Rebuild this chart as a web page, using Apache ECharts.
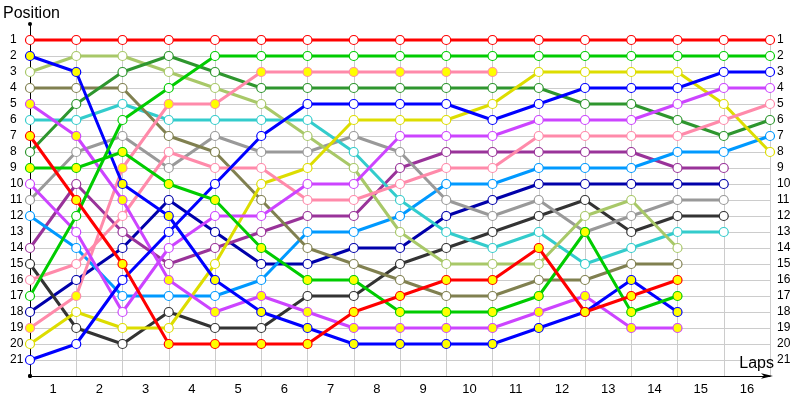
<!DOCTYPE html>
<html><head><meta charset="utf-8">
<script src="https://cdn.jsdelivr.net/npm/echarts@6/dist/echarts.min.js"></script>
<style>html,body{margin:0;padding:0;background:#fff}#c{width:800px;height:400px}</style>
</head><body><div id="c"></div>
<script>
// Lap tick labels (drawn between lap boundaries) and position labels
const lapLabels = ['1','2','3','4','5','6','7','8','9','10','11','12','13','14','15','16'];
const positionLabels = [1,2,3,4,5,6,7,8,9,10,11,12,13,14,15,16,17,18,19,20,21];

// Position of each driver at lap 0 (grid) .. lap 16
const redWhite    = [1,1,1,1,1,1,1,1,1,1,1,1,1,1,1,1,1];
const redYellow   = [7,11,15,20,20,20,20,18,17,16,16,14,18,17,16];
const greenWhite  = [17,12,6,4,2,2,2,2,2,2,2,2,2,2,2,2,2];
const greenYellow = [9,9,8,10,11,14,16,16,18,18,18,17,13,18,17];
const blueWhite   = [21,20,16,13,10,7,5,5,5,5,6,5,4,4,4,3,3];
const blueYellow  = [2,3,10,12,16,18,19,20,20,20,20,19,18,16,18];
const violetWhite = [10,13,18,14,12,12,10,10,7,7,7,6,6,6,5,4,4];
const violetYellow= [5,7,11,16,18,17,18,19,19,19,19,18,17,19,19];
const pinkWhite   = [16,15,12,8,9,9,11,11,10,9,9,7,7,7,7,6,5];
const pinkYellow  = [19,17,9,5,5,3,3,3,3,3,3];
const lightGreen  = [3,2,2,3,4,5,7,9,13,15,15,15,12,11,14];
const olive       = [4,4,4,7,8,11,14,15,16,17,17,16,16,15,15];
const cyan        = [6,6,5,6,6,6,6,8,11,13,14,13,15,14,13,13];
const gray        = [11,8,7,9,7,8,8,7,8,11,12,11,13,12,11,11];
const darkGreen   = [8,5,3,2,3,4,4,4,4,4,4,4,5,5,6,7,6];
const lightBlue   = [12,14,17,17,17,16,13,13,12,10,10,9,9,9,8,8,7];
const darkPurple  = [14,10,13,15,14,13,12,12,9,8,8,8,8,8,9,9];
const darkGray    = [15,19,20,18,19,19,17,17,15,14,13,12,11,13,12,12];
const yellow      = [20,18,19,19,15,10,9,6,6,6,5,3,3,3,3,5,8];
const navy        = [18,16,14,11,13,15,15,14,14,12,11,10,10,10,10,10];

const drivers = [
  [navy, '#0000aa', '#ffffff'],
  [darkGray, '#333333', '#ffffff'],
  [darkPurple, '#993399', '#ffffff'],
  [lightBlue, '#0099ff', '#ffffff'],
  [gray, '#999999', '#ffffff'],
  [cyan, '#33cccc', '#ffffff'],
  [olive, '#808050', '#ffffff'],
  [lightGreen, '#a8c868', '#ffffff'],
  [darkGreen, '#2e962e', '#ffffff'],
  [yellow, '#dddd00', '#ffffff'],
  [pinkYellow, '#ff8aaa', '#ffff00'],
  [pinkWhite, '#ff8aaa', '#ffffff'],
  [violetYellow, '#cc44ff', '#ffff00'],
  [violetWhite, '#cc44ff', '#ffffff'],
  [blueYellow, '#0000ff', '#ffff00'],
  [blueWhite, '#0000ff', '#ffffff'],
  [greenYellow, '#00cc00', '#ffff00'],
  [greenWhite, '#00cc00', '#ffffff'],
  [redYellow, '#ff0000', '#ffff00'],
  [redWhite, '#ff0000', '#ffffff']
];

const FONT = 'Liberation Sans';
const chart = echarts.init(document.getElementById('c'), null, {renderer: 'canvas'});
const gridColor = '#cccccc';

chart.setOption({
  animation: false,
  backgroundColor: '#ffffff',
  title: [
    {text: 'Position', left: 3, top: 6, padding: 0, textStyle: {fontFamily: FONT, fontSize: 16, fontWeight: 'normal', color: '#000'}},
    {text: 'Laps', right: 26, top: 356, padding: 0, textStyle: {fontFamily: FONT, fontSize: 16, fontWeight: 'normal', color: '#000'}}
  ],
  grid: [
    {left: 30, right: 30, top: 24, bottom: 24, outerBoundsMode: 'none', containLabel: false},
    {left: 30, right: 30, top: 35, bottom: 24, outerBoundsMode: 'none', containLabel: false}
  ],
  xAxis: [
    {
      type: 'value', gridIndex: 0, position: 'bottom', min: 0, max: 16, interval: 1,
      axisLine: {show: true, onZero: false, lineStyle: {color: '#000', width: 1}, symbol: ['circle', 'arrow'], symbolSize: [4, 12], symbolOffset: [0, 3]},
      axisTick: {show: false}, axisLabel: {show: false}, splitLine: {show: false}
    },
    {
      type: 'category', gridIndex: 0, data: lapLabels, position: 'bottom', offset: 0, boundaryGap: true,
      axisLine: {show: false, onZero: false}, axisTick: {show: false}, splitLine: {show: false},
      axisLabel: {fontFamily: FONT, fontSize: 13, color: '#000', margin: 7}
    },
    {
      type: 'value', gridIndex: 1, position: 'bottom', min: 0, max: 16, interval: 1,
      axisLine: {show: false}, axisTick: {show: false}, axisLabel: {show: false},
      splitLine: {show: true, lineStyle: {color: gridColor, width: 1}}
    }
  ],
  yAxis: [
    {
      type: 'value', gridIndex: 0, position: 'left', inverse: true, min: 0, max: 22, interval: 1,
      axisLine: {show: true, onZero: false, lineStyle: {color: '#000', width: 1}, symbol: ['circle', 'circle'], symbolSize: [4, 4]},
      axisTick: {show: false},
      axisLabel: {fontFamily: FONT, fontSize: 12, color: '#000', align: 'left', margin: 20,
        formatter: v => positionLabels.includes(v) ? String(v) : ''},
      splitLine: {show: true, showMinLine: false, showMaxLine: false, lineStyle: {color: gridColor, width: 1}}
    },
    {
      type: 'value', gridIndex: 0, inverse: true, min: 0, max: 22, interval: 1, position: 'right',
      axisLine: {show: false}, axisTick: {show: false}, splitLine: {show: false},
      axisLabel: {fontFamily: FONT, fontSize: 12, color: '#000', align: 'left', margin: 7,
        formatter: v => positionLabels.includes(v) ? String(v) : ''}
    },
    {type: 'value', gridIndex: 1, min: 0, max: 1, show: false}
  ],
  series: drivers.map(([arr, color, fill]) => ({
    type: 'line', xAxisIndex: 0, yAxisIndex: 0,
    data: arr.map((p, i) => [i, p]),
    symbol: 'circle', symbolSize: 9, showAllSymbol: true,
    lineStyle: {width: 3, color: color},
    itemStyle: {color: fill, borderColor: color, borderWidth: 1.2},
    emphasis: {disabled: true}
  }))
});
</script></body></html>
